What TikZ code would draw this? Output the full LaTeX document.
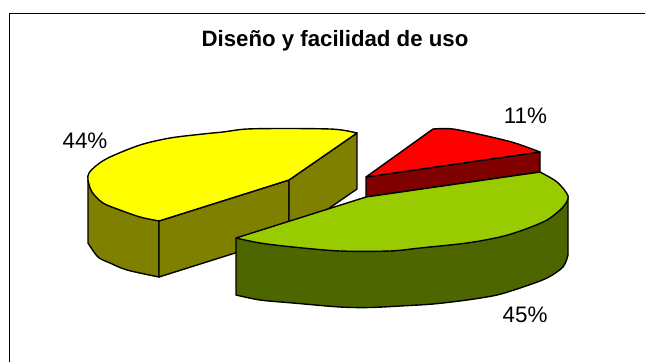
\documentclass[tikz,border=0pt]{standalone}
\usepackage{fontspec}
\setmainfont{Liberation Sans}
\definecolor{yeltop}{RGB}{255,255,0}
\definecolor{yelside}{RGB}{128,128,0}
\definecolor{redtop}{RGB}{255,0,0}
\definecolor{redside}{RGB}{128,0,0}
\definecolor{grntop}{RGB}{153,204,0}
\definecolor{grnside}{RGB}{77,102,0}
\tikzset{
  slice/.style={draw=black,line width=1.4bp,line join=round},
  pct/.style={inner sep=0pt,font=\fontsize{22.5}{26}\selectfont},
  frameline/.style={draw=black,line width=1bp}
}
\begin{document}
\begin{tikzpicture}[x=1bp,y=-1bp]
\useasboundingbox (0,0) rectangle (645,362);
\fill[white] (0,0) rectangle (645,362);
\draw[frameline] (9.5,362) -- (9.5,13.5) -- (645,13.5);
\node[inner sep=0pt,font=\fontsize{22.3}{26}\selectfont\bfseries] (title) at (335,41) {Diseño y facilidad de uso};
% yellow slice
\path[slice,fill=yelside] plot[smooth,tension=0.5] coordinates {(88,243) (98,257) (110,263) (127,270) (159,277)} -- (159,221) -- (88,180) -- cycle;
\path[slice,fill=yelside] (159,221) -- (159,277) -- (289,236) -- (289,180) -- cycle;
\path[slice,fill=yelside] (289,180) -- (289,236) -- (357,189) -- (357,133) -- cycle;
\path[slice,fill=yeltop] plot[smooth,tension=0.5] coordinates {(357,133) (345,130.5) (330,129) (290,128.5) (247,129) (223,132) (203,134) (170,138) (140,145) (110,157) (97,165) (89,173) (88,180) (92,192) (103,203) (120,210) (140,217) (159,221)} -- (289,180) -- cycle;
% red slice
\path[slice,fill=redside] (366,177) -- (366,197) -- (540,172) -- (540,152) -- cycle;
\path[slice,fill=redtop] plot[smooth,tension=0.5] coordinates {(433,129) (453,129) (487,136) (515,143) (540,152)} -- (366,177) -- cycle;
% green slice
\path[slice,fill=grnside] plot[smooth,tension=0.5] coordinates {(236,295) (260,300) (293,303) (340,307) (370,307.5) (400,306) (433,304) (467,300) (497,295) (523,287) (547,278) (563,267) (568,255)} -- (568,196) -- (236,238) -- cycle;
\path[slice,fill=grntop] (236,238) -- (366,197) -- (540,172) -- plot[smooth,tension=0.5] coordinates {(540,172) (557,182) (568,196) (563,207) (547,220) (523,230) (500,237) (467,243) (420,248) (390,251) (340,251) (293,247) (260,243) (236,238)} -- cycle;
\node[pct] (a) at (85,141) {44\%};
\node[pct] (b) at (525.5,115.5) {11\%};
\node[pct] (c) at (525,315) {45\%};
\end{tikzpicture}
\end{document}
